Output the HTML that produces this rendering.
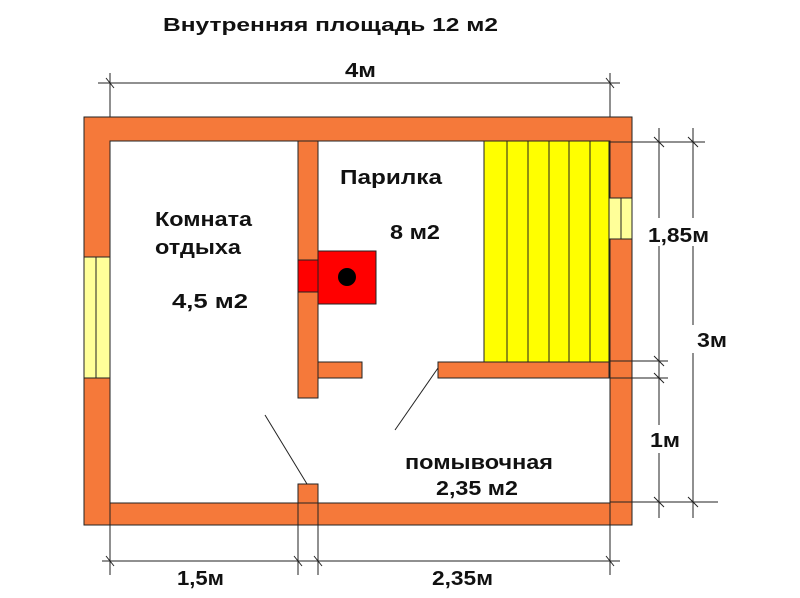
<!DOCTYPE html>
<html><head><meta charset="utf-8"><style>
body{margin:0;background:#fff}
svg text{font-family:"Liberation Sans",sans-serif;font-weight:bold;fill:#111}
</style></head><body>
<svg width="800" height="593" viewBox="0 0 800 593" xmlns="http://www.w3.org/2000/svg">
<rect width="800" height="593" fill="#fff"/>
<g stroke="#222" stroke-width="1" fill="#f5793a">
<rect x="84" y="117" width="548" height="408"/>
</g>
<rect x="110" y="141" width="500" height="362" fill="#fff" stroke="#222"/>
<rect x="84" y="257" width="26" height="121" fill="#ffff99" stroke="#222"/>
<line x1="96" y1="257" x2="96" y2="378" stroke="#222"/>
<rect x="609" y="198" width="23" height="41" fill="#ffff99" stroke="#222"/>
<line x1="621" y1="198" x2="621" y2="239" stroke="#222"/>
<rect x="484" y="141" width="125" height="221" fill="#ffff00" stroke="#222"/>
<g stroke="#222"><line x1="507" y1="141" x2="507" y2="362"/><line x1="528" y1="141" x2="528" y2="362"/><line x1="549" y1="141" x2="549" y2="362"/><line x1="569" y1="141" x2="569" y2="362"/><line x1="590" y1="141" x2="590" y2="362"/></g>
<g fill="#f5793a" stroke="#222">
<rect x="298" y="141" width="20" height="257"/>
<rect x="318" y="362" width="44" height="16"/>
<rect x="438" y="362" width="171" height="16"/>
<rect x="298" y="484" width="20" height="19"/>
</g>
<rect x="298" y="260" width="20" height="32" fill="#f00" stroke="#222"/>
<rect x="318" y="251" width="58" height="53" fill="#f00" stroke="#222"/>
<circle cx="347" cy="277" r="9" fill="#000"/>
<g stroke="#222" stroke-width="1"><line x1="438" y1="368" x2="395" y2="430"/><line x1="265" y1="415" x2="307" y2="484"/></g>
<g stroke="#222" stroke-width="1">
<line x1="98" y1="83" x2="620" y2="83"/>
<line x1="110" y1="73" x2="110" y2="117"/><line x1="610" y1="73" x2="610" y2="117"/>
<line x1="106" y1="78" x2="114" y2="88"/><line x1="606" y1="78" x2="614" y2="88"/>
<line x1="659" y1="128" x2="659" y2="518"/><line x1="693" y1="128" x2="693" y2="518"/>
<line x1="610" y1="142" x2="705" y2="142"/>
<line x1="610" y1="361" x2="668" y2="361"/><line x1="610" y1="378" x2="668" y2="378"/>
<line x1="610" y1="502" x2="718" y2="502"/>
<line x1="654" y1="137" x2="664" y2="147"/><line x1="688" y1="137" x2="698" y2="147"/>
<line x1="654" y1="356" x2="664" y2="366"/><line x1="654" y1="373" x2="664" y2="383"/>
<line x1="654" y1="497" x2="664" y2="507"/><line x1="688" y1="497" x2="698" y2="507"/>
<line x1="102" y1="561" x2="620" y2="561"/>
<line x1="110" y1="503" x2="110" y2="575"/><line x1="298" y1="503" x2="298" y2="575"/>
<line x1="318" y1="503" x2="318" y2="575"/><line x1="610" y1="503" x2="610" y2="575"/>
<line x1="106" y1="556" x2="114" y2="566"/><line x1="294" y1="556" x2="302" y2="566"/>
<line x1="314" y1="556" x2="322" y2="566"/><line x1="606" y1="556" x2="614" y2="566"/>
</g>
<rect x="646" y="218" width="66" height="28" fill="#fff"/>
<rect x="687" y="325" width="42" height="28" fill="#fff"/>
<rect x="648" y="425" width="34" height="28" fill="#fff"/>
<text x="163" y="31" font-size="18" textLength="335" lengthAdjust="spacingAndGlyphs">Внутренняя  площадь  12 м2</text>
<text x="345" y="77" font-size="20" textLength="31" lengthAdjust="spacingAndGlyphs">4м</text>
<text x="155" y="226" font-size="20" textLength="97" lengthAdjust="spacingAndGlyphs">Комната</text>
<text x="155" y="254" font-size="20" textLength="86" lengthAdjust="spacingAndGlyphs">отдыха</text>
<text x="172" y="308" font-size="20" textLength="76" lengthAdjust="spacingAndGlyphs">4,5  м2</text>
<text x="340" y="184" font-size="20" textLength="102" lengthAdjust="spacingAndGlyphs">Парилка</text>
<text x="390" y="239" font-size="20" textLength="50" lengthAdjust="spacingAndGlyphs">8 м2</text>
<text x="405" y="469" font-size="20" textLength="148" lengthAdjust="spacingAndGlyphs">помывочная</text>
<text x="436" y="495" font-size="20" textLength="82" lengthAdjust="spacingAndGlyphs">2,35 м2</text>
<text x="648" y="242" font-size="20" textLength="61" lengthAdjust="spacingAndGlyphs">1,85м</text>
<text x="697" y="347" font-size="20" textLength="30" lengthAdjust="spacingAndGlyphs">3м</text>
<text x="650" y="447" font-size="20" textLength="30" lengthAdjust="spacingAndGlyphs">1м</text>
<text x="177" y="585" font-size="20" textLength="47" lengthAdjust="spacingAndGlyphs">1,5м</text>
<text x="432" y="585" font-size="20" textLength="61" lengthAdjust="spacingAndGlyphs">2,35м</text>
</svg>
</body></html>
